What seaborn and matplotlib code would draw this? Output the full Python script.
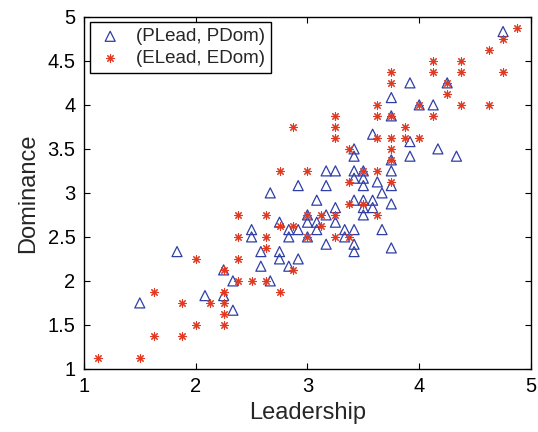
import matplotlib
matplotlib.use("Agg")
import matplotlib.pyplot as plt
import seaborn as sns
import pandas as pd

# (PLead, PDom)
p_lead = [1.5, 1.833, 2.083, 2.25, 2.25, 2.333, 2.333, 2.5, 2.5, 2.583, 2.583,
          2.667, 2.667, 2.75, 2.75, 2.75, 2.833, 2.833, 2.833, 2.917, 2.917, 2.917,
          3.0, 3.0, 3.0, 3.083, 3.083, 3.083, 3.167, 3.167, 3.167, 3.167, 3.25, 3.25,
          3.25, 3.333, 3.333, 3.417, 3.417, 3.417, 3.417, 3.417, 3.417, 3.417, 3.417,
          3.5, 3.5, 3.5, 3.5, 3.5, 3.5, 3.583, 3.583, 3.583, 3.625, 3.667, 3.667,
          3.75, 3.75, 3.75, 3.75, 3.75, 3.75, 3.75, 3.917, 3.917, 3.917, 4.0, 4.125,
          4.167, 4.25, 4.333, 4.75]
p_dom = [1.75, 2.333, 1.833, 2.125, 1.833, 1.667, 2.0, 2.583, 2.5, 2.333, 2.167,
         3.0, 2.0, 2.667, 2.333, 2.25, 2.583, 2.5, 2.167, 3.083, 2.583, 2.25,
         2.75, 2.667, 2.5, 2.917, 2.667, 2.583, 3.25, 3.083, 2.75, 2.417, 3.25, 2.833,
         2.667, 2.583, 2.5, 3.5, 3.417, 3.25, 3.167, 2.917, 2.583, 2.417, 2.333,
         3.25, 3.167, 3.083, 2.917, 2.833, 2.75, 3.667, 2.917, 2.833, 3.125, 3.0, 2.583,
         4.083, 3.875, 3.375, 3.25, 3.083, 2.875, 2.375, 4.25, 3.583, 3.417, 4.0, 4.0,
         3.5, 4.25, 3.417, 4.833]

# (ELead, EDom)
e_lead = [1.125, 1.5, 1.625, 1.625, 1.875, 1.875, 2.0, 2.0, 2.125, 2.25, 2.25, 2.25,
          2.25, 2.25, 2.375, 2.375, 2.375, 2.375, 2.5, 2.625, 2.625, 2.625, 2.625,
          2.75, 2.75, 2.75, 2.875, 2.875, 2.875, 3.0, 3.0, 3.0, 3.125, 3.125, 3.25,
          3.25, 3.25, 3.25, 3.25, 3.375, 3.375, 3.375, 3.375, 3.5, 3.5, 3.625, 3.625,
          3.625, 3.625, 3.625, 3.75, 3.75, 3.75, 3.75, 3.75, 3.75, 3.75, 3.875, 3.875,
          4.0, 4.0, 4.125, 4.125, 4.125, 4.25, 4.25, 4.375, 4.375, 4.375, 4.625, 4.625,
          4.75, 4.75, 4.875]
e_dom = [1.125, 1.125, 1.875, 1.375, 1.75, 1.375, 2.25, 1.5, 1.75, 2.125, 1.875, 1.75,
         1.625, 1.5, 2.75, 2.5, 2.25, 2.0, 2.0, 2.75, 2.5, 2.375, 2.0,
         3.25, 2.625, 1.875, 3.75, 2.625, 2.125, 3.25, 2.75, 2.5, 2.75, 2.625, 3.875,
         3.75, 3.625, 2.75, 2.5, 3.5, 3.125, 2.875, 2.5, 3.25, 2.875, 4.0, 3.875,
         3.625, 3.25, 2.75, 4.375, 4.25, 3.875, 3.625, 3.5, 3.375, 3.125, 3.75, 3.625,
         4.0, 3.625, 4.5, 4.375, 3.875, 4.25, 4.125, 4.5, 4.375, 4.0, 4.625, 4.0,
         4.75, 4.375, 4.875]

x_ticks = [1, 2, 3, 4, 5]
y_ticks = [1, 1.5, 2, 2.5, 3, 3.5, 4, 4.5, 5]
y_tick_labels = ["1", "1.5", "2", "2.5", "3", "3.5", "4", "4.5", "5"]

sns.set_style("ticks")
plt.rcParams["font.family"] = ["Liberation Sans", "DejaVu Sans"]
plt.rcParams["xtick.direction"] = "in"
plt.rcParams["ytick.direction"] = "in"

blue = "#2f3fa6"
red = "#e23a22"

fig = plt.figure(figsize=(5.38, 4.32), dpi=100)
ax = fig.add_axes([0.156, 0.146, 0.831, 0.815])

dfp = pd.DataFrame({"Leadership": p_lead, "Dominance": p_dom})
dfe = pd.DataFrame({"Leadership": e_lead, "Dominance": e_dom})

sns.scatterplot(data=dfp, x="Leadership", y="Dominance", ax=ax, marker="^", s=52,
                facecolor="none", edgecolor=blue, linewidth=0.9,
                label="(PLead, PDom)", zorder=3)
sns.scatterplot(data=dfe, x="Leadership", y="Dominance", ax=ax, marker=(8, 2, 0), s=30,
                color=red, linewidth=0.8, label="(ELead, EDom)", zorder=3)

ax.set_xlim(1, 5)
ax.set_ylim(1, 5)
ax.set_xticks(x_ticks)
ax.set_xticklabels([str(t) for t in x_ticks])
ax.set_yticks(y_ticks)
ax.set_yticklabels(y_tick_labels)
ax.tick_params(axis="both", labelsize=14.5, length=4.5, width=0.8, colors="black",
               top=True, right=True, pad=6)
for sp in ax.spines.values():
    sp.set_visible(True)
    sp.set_linewidth(1.0)
    sp.set_color("black")
ax.set_xlabel("Leadership", fontsize=17, labelpad=4)
ax.set_ylabel("Dominance", fontsize=17, labelpad=6)

leg = ax.legend(loc="upper left", fontsize=13.5, frameon=True, fancybox=False,
                edgecolor="black", borderpad=0.3, handletextpad=0.6,
                borderaxespad=0.3, labelspacing=0.25, handlelength=1.6)
leg.get_frame().set_linewidth(1.0)
leg.get_frame().set_alpha(1)

fig.savefig("out.png", dpi=100)
